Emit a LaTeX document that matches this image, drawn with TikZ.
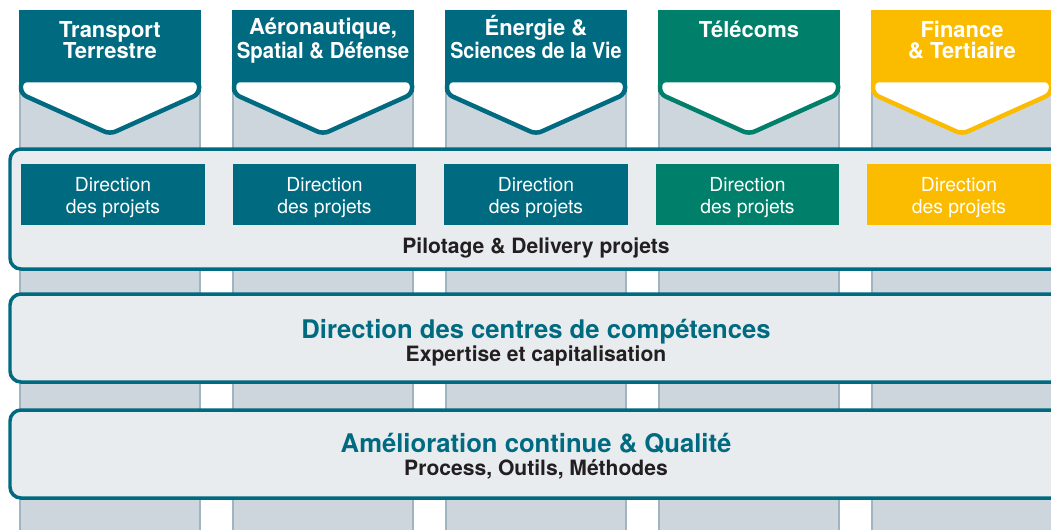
\documentclass[tikz,border=0pt]{standalone}
\usepackage{fontspec}
\setmainfont{TeX Gyre Heros}
\usepackage{graphicx}

\definecolor{petrol}{RGB}{0,106,128}
\definecolor{telgreen}{RGB}{0,128,106}
\definecolor{finyellow}{RGB}{251,188,0}
\definecolor{bandfill}{RGB}{232,236,239}
\definecolor{colfill}{RGB}{205,213,221}
\definecolor{coledge}{RGB}{160,180,193}
\definecolor{ink}{RGB}{35,31,32}

\newcommand\narrowed[2]{\scalebox{#1}[1]{#2}}

\begin{document}
\begin{tikzpicture}
        [
            x=0.02cm, y=-0.02cm,
            band/.style={draw=petrol, fill=bandfill, line width=0.07cm, rounded corners=0.22cm},
            header/.style={text=white, font=\bfseries\fontsize{12.5}{11.9}\selectfont, align=center, anchor=base, inner sep=0pt},
            dirbox/.style={minimum width=3.68cm, minimum height=1.22cm, inner sep=0pt, text=white, align=center, font=\fontsize{11}{12.4}\selectfont},
            title/.style={text=petrol, font=\bfseries\fontsize{14.6}{16}\selectfont, anchor=base, inner sep=0pt},
            subtitle/.style={text=ink, font=\bfseries\fontsize{12}{14}\selectfont, anchor=base, inner sep=0pt}
        ]
        \useasboundingbox (0,0) rectangle (1051,529);
        \clip (0,0) rectangle (1051,529);
        % columns + headers (\yb = baseline of last line)
        \foreach \i/\col/\yb/\lbl in {0/petrol/58/{Transport\\Terrestre},
                1/petrol/58/{Aéronautique,\\\narrowed{0.93}{Spatial \& Défense}},
                2/petrol/58/{Énergie \&\\\narrowed{0.9}{Sciences de la Vie}},
                3/telgreen/37/{Télécoms},
                4/finyellow/58/{Finance\\\& Tertiaire}}
        {
            \pgfmathsetmacro\xa{19+213*\i}
            \pgfmathsetmacro\xb{\xa+182}
            \pgfmathsetmacro\xm{\xa+91}
            \fill[coledge] (\xa,90) rectangle (\xb,540);
            \fill[colfill] (\xa+2,90) rectangle (\xb-2,540);
            \fill[\col] (\xa,10) rectangle (\xb,92);
            \draw[\col, fill=white, line width=0.09cm, rounded corners=0.12cm]
                (\xa+2,80) -- (\xb-2,80) -- (\xb-2,94) -- (\xm,134) -- (\xa+2,94) -- cycle;
            \node[header] (head\i) at (\xm,\yb) {\lbl};
        }
        % Pilotage
        \draw[band] (10,149) rectangle (1090,269);
        \foreach \i/\col in {0/petrol, 1/petrol, 2/petrol, 3/telgreen, 4/finyellow}
        {
            \node[dirbox, fill=\col] (dir\i) at (113+211.5*\i,194.5)
                {\raisebox{-1.7pt}[\height][\depth]{\shortstack{Direction\\[1pt]des projets}}};
        }
        \node[subtitle] (pilot) at (536,253) {Pilotage \& Delivery projets};
        % competences
        \draw[band] (10,294) rectangle (1090,382);
        \node[title] (comp) at (536,338) {Direction des centres de compétences};
        \node[subtitle] (expert) at (536,361) {Expertise et capitalisation};
        % qualite
        \draw[band] (10,410) rectangle (1090,498);
        \node[title] (qual) at (536,452) {Amélioration continue \& Qualité};
        \node[subtitle] (process) at (536,475) {Process, Outils, Méthodes};
    \end{tikzpicture}
\end{document}
